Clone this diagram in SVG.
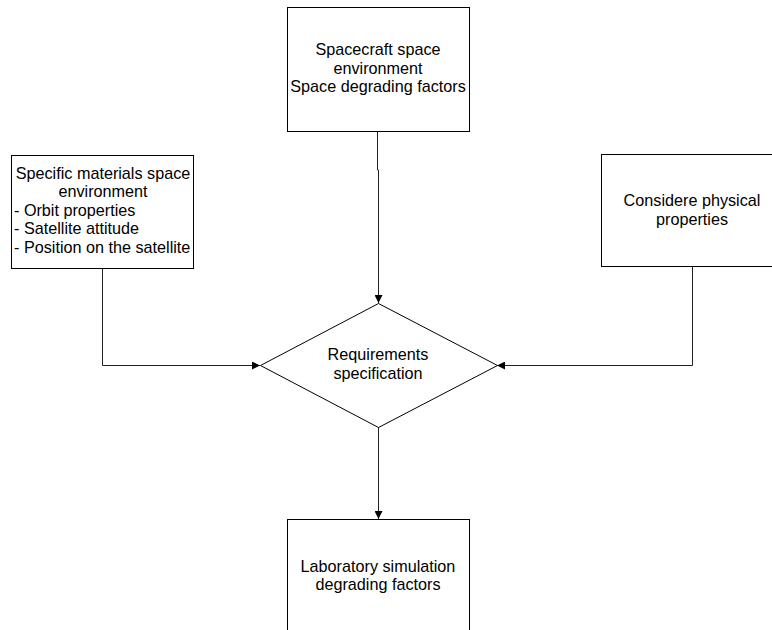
<svg xmlns="http://www.w3.org/2000/svg" width="772" height="630" viewBox="0 0 772 630">
<defs>
<style>
.box{fill:#fff;stroke:#000;stroke-width:1}
.t{font-family:"Liberation Sans",Arial,sans-serif;font-size:16.2px;fill:#000}
.c{text-anchor:middle}
.ln{fill:none;stroke:#222;stroke-width:1}
</style>
<marker id="arr" viewBox="0 0 10 10" refX="10" refY="5" markerWidth="10" markerHeight="8" markerUnits="userSpaceOnUse" orient="auto">
<path d="M0,0 L10,5 L0,10 z" fill="#000"/>
</marker>
</defs>
<rect width="772" height="630" fill="#fff"/>
<g id="connectors">
<path class="ln" d="M377.5,131 V170 H378.5 V303" marker-end="url(#arr)"/>
<path class="ln" d="M102.5,268 V365.5 H260" marker-end="url(#arr)"/>
<path class="ln" d="M692.5,266 V365.5 H497" marker-end="url(#arr)"/>
<path class="ln" d="M378.5,427 V519" marker-end="url(#arr)"/>
</g>
<g id="n1">
<rect class="box" x="287.5" y="7.5" width="182" height="124"/>
<text class="t c" x="378" y="55">Spacecraft space</text>
<text class="t c" x="378" y="73.5">environment</text>
<text class="t c" x="378" y="92">Space degrading factors</text>
</g>
<g id="n2">
<rect class="box" x="11.5" y="155.5" width="182" height="113"/>
<text class="t c" x="103" y="178.5">Specific materials space</text>
<text class="t c" x="103" y="197">environment</text>
<text class="t" x="14" y="215.7">- Orbit properties</text>
<text class="t" x="14" y="234.3">- Satellite attitude</text>
<text class="t" x="14" y="253">- Position on the satellite</text>
</g>
<g id="n3">
<rect class="box" x="601.5" y="154.5" width="182" height="112"/>
<text class="t c" x="692" y="206">Considere physical</text>
<text class="t c" x="692" y="224.5">properties</text>
</g>
<g id="n4">
<path class="box" d="M378.5,303.5 L497.5,365.5 L378.5,427.5 L260.5,365.5 z"/>
<text class="t c" x="378" y="360">Requirements</text>
<text class="t c" x="378" y="379">specification</text>
</g>
<g id="n5">
<rect class="box" x="287.5" y="519.5" width="182" height="120"/>
<text class="t c" x="378" y="571.5">Laboratory simulation</text>
<text class="t c" x="378" y="590">degrading factors</text>
</g>
</svg>
